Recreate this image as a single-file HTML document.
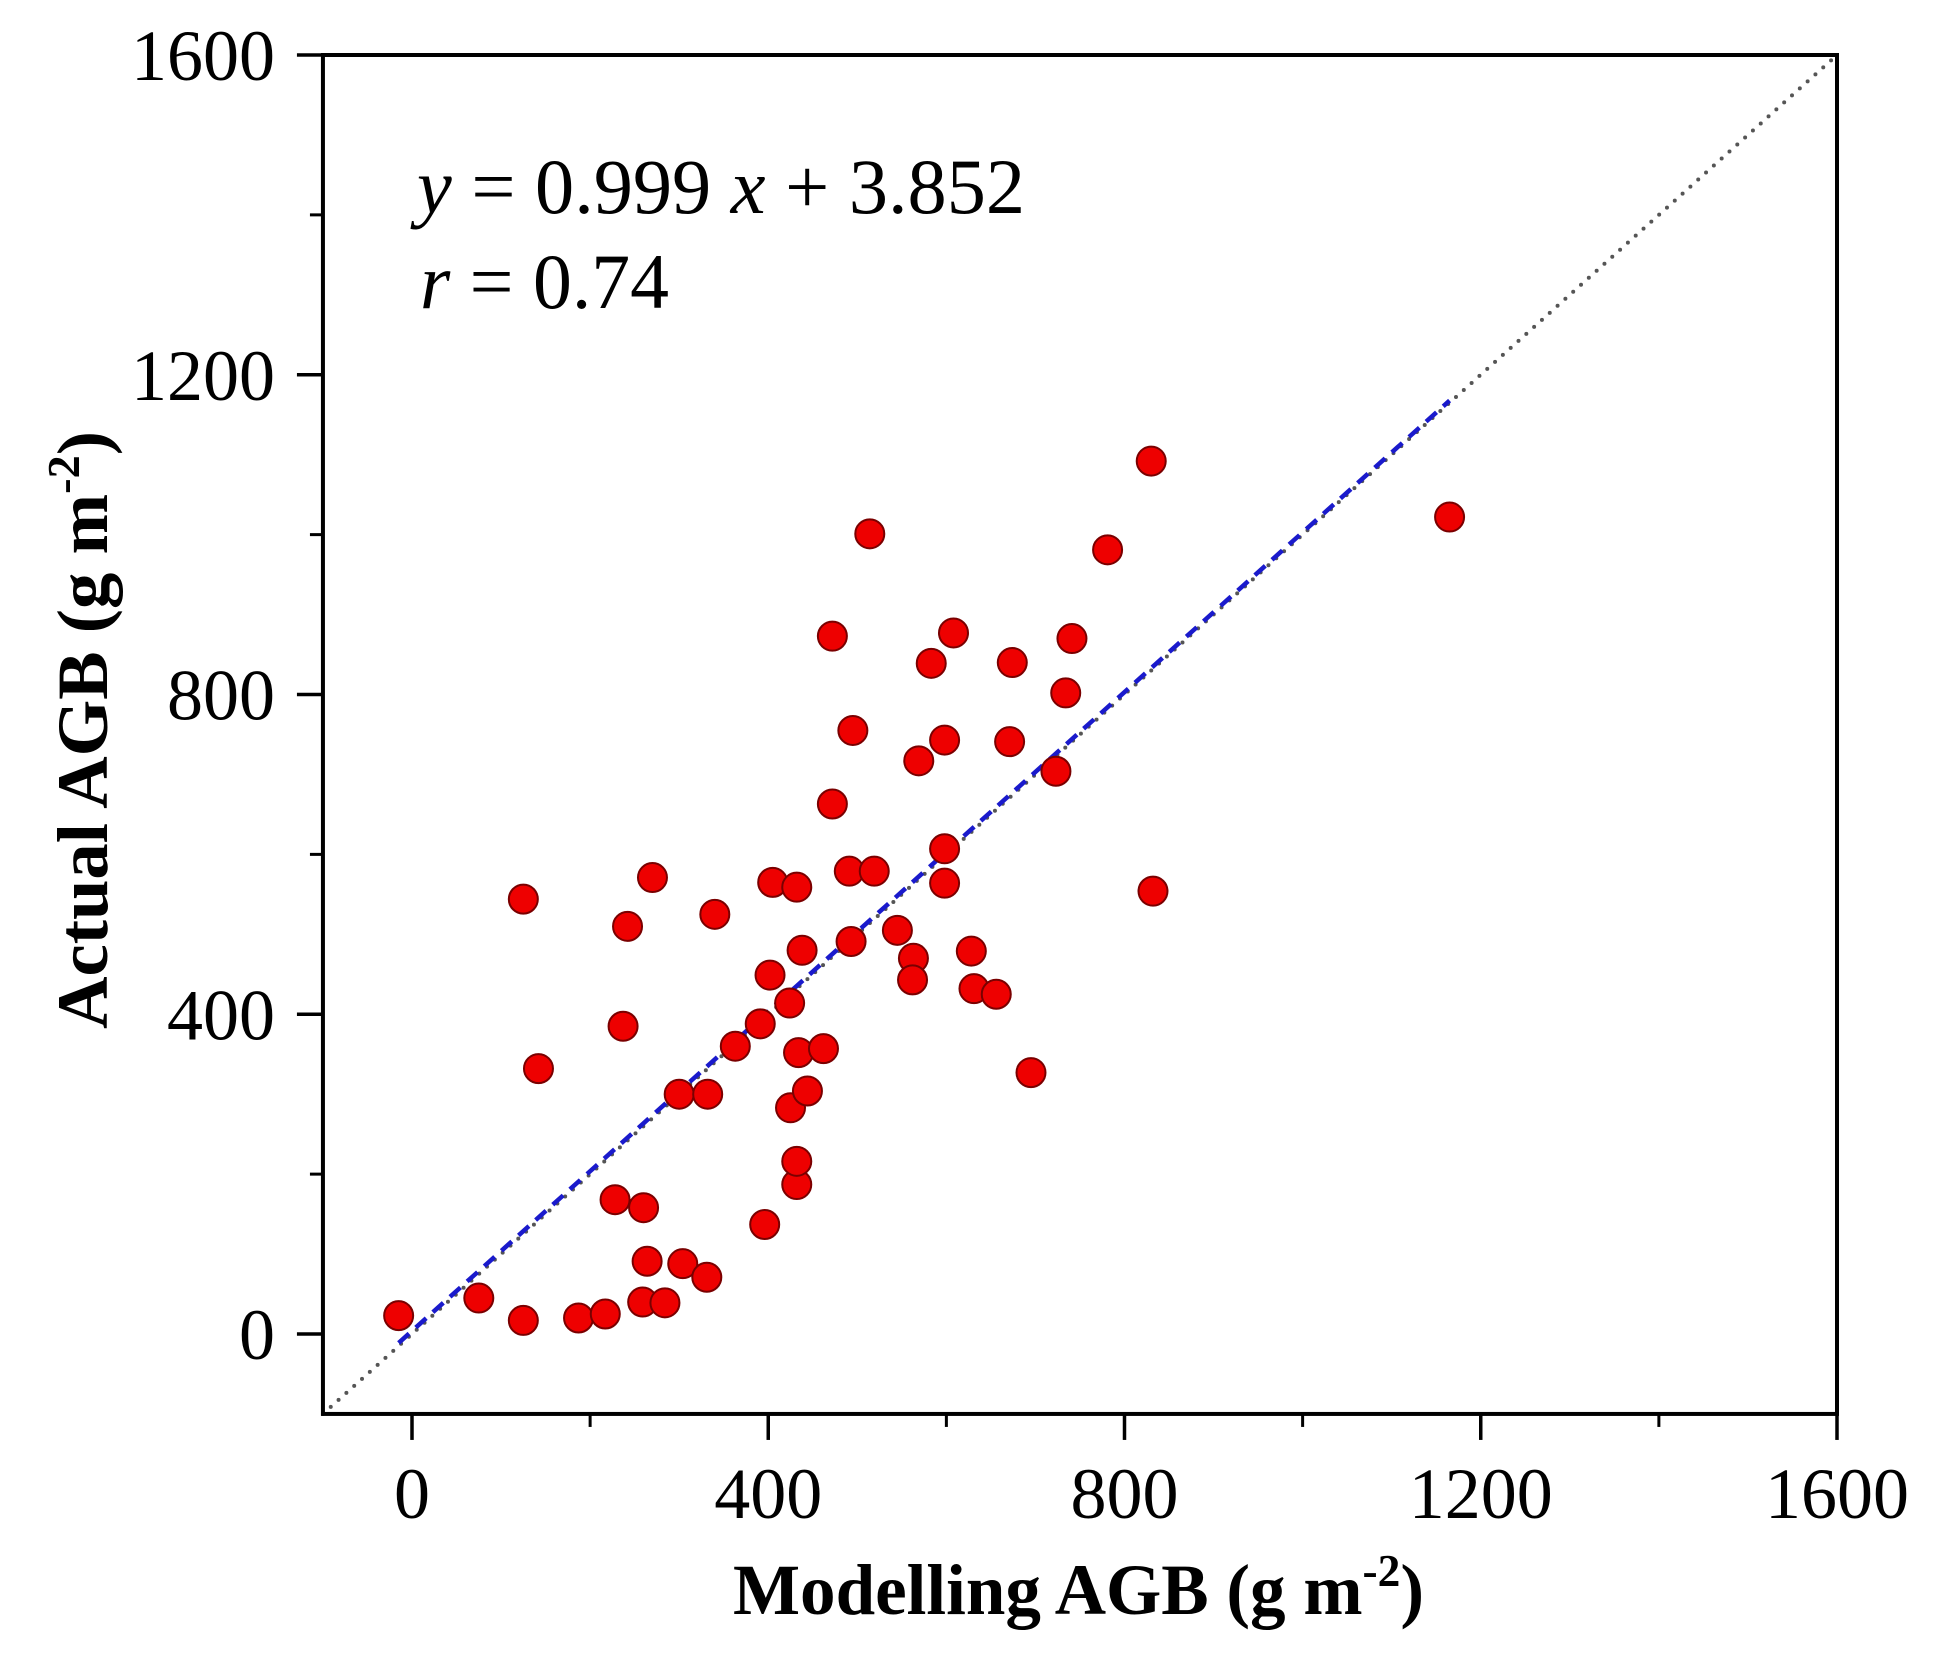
<!DOCTYPE html>
<html><head><meta charset="utf-8"><style>html,body{margin:0;padding:0;background:#fff}svg{display:block}</style></head>
<body>
<svg id="chart" width="1935" height="1659" viewBox="0 0 1935 1659" xmlns="http://www.w3.org/2000/svg" font-family="Liberation Serif, serif">
<g id="marks"></g>
<g id="axes"></g>
<text x="417" y="213" font-size="78" textLength="608" lengthAdjust="spacingAndGlyphs"><tspan font-style="italic">y</tspan> = 0.999 <tspan font-style="italic">x</tspan> + 3.852</text>
<text x="420" y="308" font-size="78" textLength="249" lengthAdjust="spacingAndGlyphs"><tspan font-style="italic">r</tspan> = 0.74</text>
<text x="733" y="1614" font-size="72" font-weight="bold" textLength="691" lengthAdjust="spacingAndGlyphs">Modelling AGB (g m<tspan dy="-28" font-size="46">-2</tspan><tspan dy="28">)</tspan></text>
<text transform="translate(107,1029) rotate(-90)" x="0" y="0" font-size="72" font-weight="bold" textLength="598" lengthAdjust="spacingAndGlyphs">Actual AGB (g m<tspan dy="-28" font-size="46">-2</tspan><tspan dy="28">)</tspan></text>
</svg>
<script>
const xVals = [-15,75,125,187,217,259,284,264,304,331,228,260,396,432,432,425,444,300,332,142,237,363,391,424,402,434,462,438,493,545,563,562,628,631,656,695,125,242,270,340,405,432,491,519,598,598,472,569,495,598,671,723,734,583,674,608,472,741,781,514,830,1165,832];
const yVals = [23,45,17,20,25,40,39,91,88,71,168,158,137,187,216,283,304,300,300,332,385,360,388,414,449,352,357,480,491,505,470,443,479,432,425,327,544,510,571,525,565,559,579,579,564,607,663,717,755,743,741,704,802,839,840,877,873,870,981,1001,1092,1022,554];
const tickValues = [0,400,800,1200,1600];
const tickLabels = ["0","400","800","1200","1600"];
const minorTicks = [-100,200,600,1000,1400];
const slope = 0.999, intercept = 3.852;
const fitRange = [-15,1165];

const NS = "http://www.w3.org/2000/svg";
const X0=412, XS=356.25/400, Y0=1334, YS=1279/1600;
function sx(v){return X0+v*XS;}
function sy(v){return Y0-v*YS;}
const L=sx(-100), R=sx(1600), T=sy(1600), B=sy(-100);
function mk(tag, attrs, parent){const e=document.createElementNS(NS,tag);for(const k in attrs)e.setAttribute(k,attrs[k]);parent.appendChild(e);return e;}
const marks=document.getElementById('marks'), axes=document.getElementById('axes');

let d=mk('line',{x1:sx(-100),y1:sy(-100),x2:sx(1600),y2:sy(1600),stroke:'#555','stroke-width':4,'stroke-dasharray':'0 10.5','stroke-linecap':'round'},marks);


let f=mk('line',{x1:sx(fitRange[0]),y1:sy(slope*fitRange[0]+intercept),x2:sx(fitRange[1]),y2:sy(slope*fitRange[1]+intercept),stroke:'#1a1acc','stroke-width':4.5,'stroke-dasharray':'14 9'},marks);


for(let i=0;i<xVals.length;i++){
  const c=mk('circle',{cx:sx(xVals[i]),cy:sy(yVals[i]),r:14.5,fill:'#ee0000',stroke:'#7a0000','stroke-width':2},marks);
  
  
}
let fr=mk('rect',{x:L,y:T,width:R-L,height:B-T,fill:'none',stroke:'#000','stroke-width':4},axes);


tickValues.forEach((v,i)=>{
  let t=mk('line',{x1:sx(v),y1:B,x2:sx(v),y2:B+26,stroke:'#000','stroke-width':3.5},axes);
  
  
  let l=mk('text',{x:sx(v),y:1518,'font-size':72,'text-anchor':'middle'},axes);l.textContent=tickLabels[i];
  
  
  let t2=mk('line',{x1:L,y1:sy(v),x2:L-26,y2:sy(v),stroke:'#000','stroke-width':3.5},axes);
  
  
  let l2=mk('text',{x:275,y:sy(v)+25,'font-size':72,'text-anchor':'end'},axes);l2.textContent=tickLabels[i];
  
  
});
minorTicks.forEach(v=>{
  if(v>-100){
  let t=mk('line',{x1:sx(v),y1:B,x2:sx(v),y2:B+13,stroke:'#000','stroke-width':3},axes);
  
  
  let t2=mk('line',{x1:L,y1:sy(v),x2:L-13,y2:sy(v),stroke:'#000','stroke-width':3},axes);
  
  
  }
});
</script>
</body></html>
